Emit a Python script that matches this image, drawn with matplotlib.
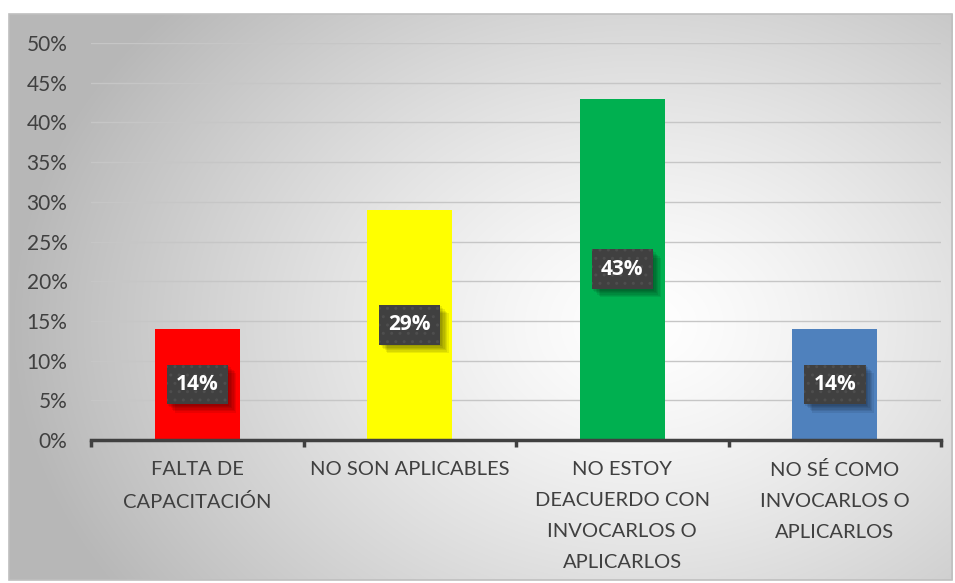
import numpy as np
import matplotlib.pyplot as plt
from matplotlib.patches import Rectangle
from matplotlib import patheffects as pe
from matplotlib.ticker import PercentFormatter, FixedLocator

plt.rcParams['font.family'] = ['Lato', 'DejaVu Sans']

categories = ['FALTA DE\nCAPACITACIÓN', 'NO SON APLICABLES',
              'NO ESTOY\nDEACUERDO CON\nINVOCARLOS O\nAPLICARLOS',
              'NO SÉ COMO\nINVOCARLOS O\nAPLICARLOS']
values = [14, 29, 43, 14]
bar_colors = ['#ff0000', '#ffff00', '#00b050', '#4f81bd']

W, H = 955, 583
fig = plt.figure(figsize=(W / 100, H / 100), dpi=100)

# radial gradient panel behind the chart
bg = fig.add_axes([0, 0, 1, 1])
bg.set_xlim(0, W)
bg.set_ylim(H, 0)
bg.axis('off')
yy, xx = np.mgrid[0:H, 0:W]
r = np.sqrt(((xx - 640) / 620.0) ** 2 + ((yy - 320) / 480.0) ** 2)
shade = np.clip(1.0 - 0.27 * r ** 1.3, 0.72, 1.0)
img = np.dstack([shade, shade, shade])
bg.imshow(img, extent=(9, 952, 580, 14), aspect='auto', zorder=0)
bg.add_patch(Rectangle((9, 14), 943, 566, fill=False, ec='#bfbfbf', lw=1.2, zorder=1))

# plot area in figure fractions
x0, x1 = 91 / W, 941 / W
y0, y1 = 1 - 440 / H, 1 - 43 / H
ax = fig.add_axes([x0, y0, x1 - x0, y1 - y0])
ax.patch.set_alpha(0)

xpos = np.arange(len(values))
ax.bar(xpos, values, width=0.4, color=bar_colors, zorder=3)
ax.set_xlim(-0.5, len(values) - 0.5)
ax.set_ylim(0, 50)
ax.set_yticks(np.arange(0, 51, 5))
ax.yaxis.set_major_formatter(PercentFormatter(decimals=0))
ax.grid(axis='y', color='#c6c6c6', lw=1.0, zorder=1)
ax.tick_params(axis='y', length=0, pad=17, labelsize=15, labelcolor='#404040')

ax.xaxis.set_minor_locator(FixedLocator(np.arange(-0.5, len(values), 1.0)))
ax.tick_params(axis='x', which='minor', length=5, width=2.5, color='#404040', direction='out')
ax.tick_params(axis='x', which='major', length=0, pad=15)
ax.set_xticks(xpos)
ax.set_xticklabels(categories, fontsize=14.5, color='#404040')
for lbl in ax.get_xticklabels():
    lbl.set_linespacing(2.0)

for s in ['top', 'right', 'left']:
    ax.spines[s].set_visible(False)
ax.spines['bottom'].set_color('#404040')
ax.spines['bottom'].set_linewidth(2.5)
ax.spines['bottom'].set_zorder(4)

# value labels in dark boxes at the middle of each bar, soft shadow below right
shadow = [pe.SimplePatchShadow(offset=(d, -d), shadow_rgbFace='black', alpha=0.08)
          for d in (1, 2, 3, 4, 5, 6)]
box = dict(boxstyle='square,pad=0.45')
for x, v in zip(xpos, values):
    s = ax.text(x, v / 2, f'{v}%', ha='center', va='center', color='none',
                fontsize=15, fontweight='bold', family=['Open Sans'], zorder=5,
                bbox=dict(box, fc='black', ec='none'))
    s.get_bbox_patch().set_path_effects(shadow)
    ax.text(x, v / 2, f'{v}%', ha='center', va='center', color='white',
            fontsize=15, fontweight='bold', family=['Open Sans'], zorder=6,
            bbox=dict(box, fc='#404040', ec='#4e4e4e', lw=0, hatch='..'))

fig.savefig('out.png', dpi=100)
